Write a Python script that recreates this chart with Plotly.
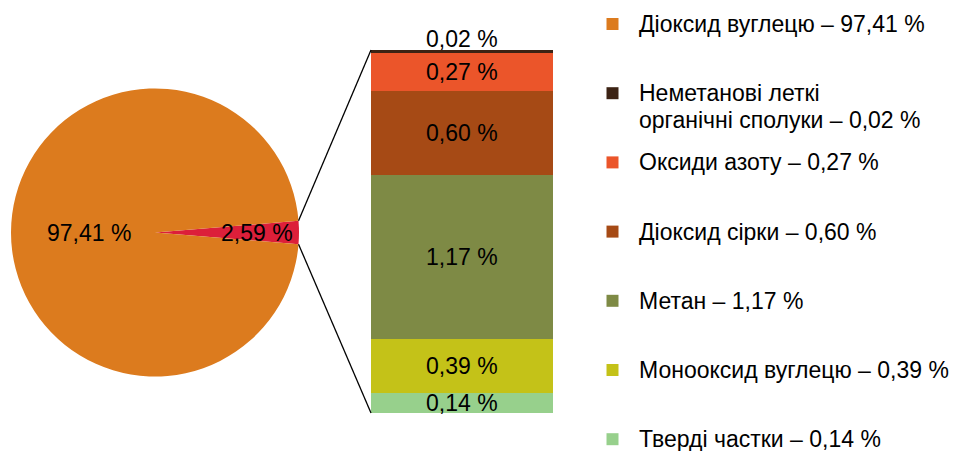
import math
import plotly.graph_objects as go

# ---------------- data ----------------
pie_labels = ["Інші забруднювачі", "Діоксид вуглецю"]
pie_values = [2.59, 97.41]
pie_text = ["2,59 %", "97,41 %"]
pie_colors = ["#DC1F3A", "#DC7B1E"]

bar_labels = ["Тверді частки", "Монооксид вуглецю", "Метан", "Діоксид сірки",
              "Оксиди азоту", "Неметанові леткі органічні сполуки"]
bar_values = [0.14, 0.39, 1.17, 0.60, 0.27, 0.02]
bar_text = ["0,14 %", "0,39 %", "1,17 %", "0,60 %", "0,27 %", "0,02 %"]
bar_colors = ["#97D08C", "#C4C218", "#7E8A45", "#A64A15", "#EB552A", "#3C2314"]

legend_labels = ["Діоксид вуглецю – 97,41 %",
                 "Неметанові леткі<br>органічні сполуки – 0,02 %",
                 "Оксиди азоту – 0,27 %",
                 "Діоксид сірки – 0,60 %",
                 "Метан – 1,17 %",
                 "Монооксид вуглецю – 0,39 %",
                 "Тверді частки – 0,14 %"]
legend_colors = ["#DC7B1E", "#3C2314", "#EB552A", "#A64A15", "#7E8A45", "#C4C218", "#97D08C"]

# ---------------- layout constants (pixels) ----------------
W, H = 955, 451
FONT = "Arial, Liberation Sans, sans-serif"
FS = 23
PIE_CX, PIE_CY, PIE_R = 155, 232.5, 144
PIE_LABEL_FRAC = [0.71, 0.46]
BAR_X0, BAR_X1, BAR_Y0, BAR_Y1 = 371, 553, 50, 413
LEG_MX, LEG_TX, LEG_Y0, LEG_DY = 612.5, 637, 24, 69.2
LINE_H = 27


def px(x):
    return x / W


def py(y):
    return 1 - y / H


fig = go.Figure()

# pie
total = sum(pie_values)
first_angle = 360 * pie_values[0] / total
rotation = 90 - first_angle / 2
fig.add_trace(go.Pie(
    labels=pie_labels, values=pie_values, sort=False, direction="clockwise",
    rotation=rotation, marker=dict(colors=pie_colors, line=dict(width=0)),
    textinfo="none", hoverinfo="label+value", showlegend=False,
    domain=dict(x=[px(PIE_CX - PIE_R), px(PIE_CX + PIE_R)],
                y=[py(PIE_CY + PIE_R), py(PIE_CY - PIE_R)]),
))

annotations = []
start = rotation
for v, t, f in zip(pie_values, pie_text, PIE_LABEL_FRAC):
    span = 360 * v / total
    mid = math.radians(start + span / 2)
    start += span
    x = PIE_CX + f * PIE_R * math.sin(mid)
    y = PIE_CY - f * PIE_R * math.cos(mid)
    annotations.append(dict(x=px(x), y=py(y), xref="paper", yref="paper", text=t,
                            xanchor="center", yanchor="middle",
                            showarrow=False, font=dict(family=FONT, size=FS, color="#000")))

# stacked bar
bar_total = sum(bar_values)
for lab, v, c in zip(bar_labels, bar_values, bar_colors):
    fig.add_trace(go.Bar(x=[0], y=[v], name=lab, width=1, marker=dict(color=c, line=dict(width=0)),
                         showlegend=False, xaxis="x", yaxis="y"))

cum = 0
for i, (v, t) in enumerate(zip(bar_values, bar_text)):
    if i == len(bar_values) - 1:
        annotations.append(dict(x=0, y=bar_total, xref="x", yref="y", text=t, showarrow=False,
                                xanchor="center", yanchor="bottom", yshift=-4,
                                font=dict(family=FONT, size=FS, color="#000")))
    else:
        annotations.append(dict(x=0, y=cum + v / 2, xref="x", yref="y", text=t, showarrow=False,
                                xanchor="center", yanchor="middle",
                                font=dict(family=FONT, size=FS, color="#000")))
    cum += v

# connector lines
half = math.radians(first_angle / 2)
ex = PIE_CX + PIE_R * math.cos(half)
ey_top = PIE_CY - PIE_R * math.sin(half)
ey_bot = PIE_CY + PIE_R * math.sin(half)
shapes = [
    dict(type="line", xref="paper", yref="paper", x0=px(ex), y0=py(ey_top), x1=px(BAR_X0), y1=py(BAR_Y0),
         line=dict(color="#000", width=1.3)),
    dict(type="line", xref="paper", yref="paper", x0=px(ex), y0=py(ey_bot), x1=px(BAR_X0), y1=py(BAR_Y1),
         line=dict(color="#000", width=1.3)),
]

# legend (manual)
leg_y = [LEG_Y0 + LEG_DY * i for i in range(len(legend_labels))]
fig.add_trace(go.Scatter(x=[LEG_MX] * len(legend_labels), y=leg_y, mode="markers",
                         marker=dict(symbol="square", size=12, color=legend_colors, line=dict(width=0)),
                         xaxis="x2", yaxis="y2", showlegend=False, hoverinfo="skip"))
for lab, y in zip(legend_labels, leg_y):
    for j, line in enumerate(lab.split("<br>")):
        annotations.append(dict(x=LEG_TX, y=y + j * LINE_H, xref="x2", yref="y2", text=line,
                                showarrow=False, xanchor="left", yanchor="middle", align="left",
                                font=dict(family=FONT, size=FS, color="#000")))

fig.update_layout(
    width=W, height=H, margin=dict(l=0, r=0, t=0, b=0),
    paper_bgcolor="white", plot_bgcolor="rgba(0,0,0,0)",
    barmode="stack", bargap=0,
    xaxis=dict(domain=[px(BAR_X0), px(BAR_X1)], range=[-0.5, 0.5], visible=False, fixedrange=True),
    yaxis=dict(domain=[py(BAR_Y1), py(BAR_Y0)], range=[0, bar_total], visible=False, fixedrange=True),
    xaxis2=dict(domain=[0, 1], range=[0, W], visible=False, anchor="y2", fixedrange=True),
    yaxis2=dict(domain=[0, 1], range=[H, 0], visible=False, anchor="x2", fixedrange=True),
    annotations=annotations, shapes=shapes,
    font=dict(family=FONT, size=FS),
)

fig.write_html("out.html", config={"displayModeBar": False},
               post_script="document.body.style.margin='0';")
